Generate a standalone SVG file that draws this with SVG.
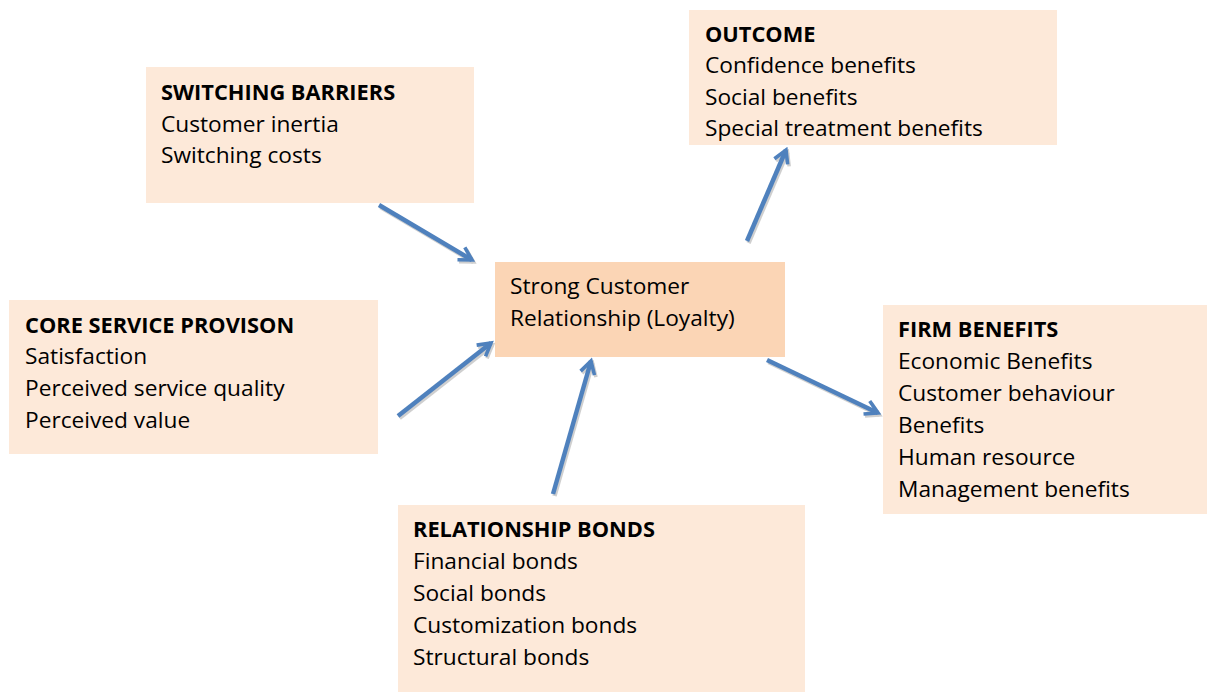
<svg xmlns="http://www.w3.org/2000/svg" width="1207" height="693" viewBox="0 0 1207 693">
  <style>
    .box { fill: #FDE9D9; }
    .core { fill: #FBD5B5; }
    text { font-family: "Open Sans", "Liberation Sans", Arial, sans-serif; font-size: 22.7px; fill: #000; }
    .h { font-weight: bold; font-size: 21.8px; }
    .conn { stroke: #4F81BD; stroke-width: 4.5; fill: none; stroke-linecap: butt; }
    .shadow { stroke: #B0B0B0; stroke-width: 4.5; fill: none; opacity: 0.6; }
  </style>
  <defs>
    <marker id="head" viewBox="0 0 10 10" refX="8" refY="5" markerWidth="4" markerHeight="4" orient="auto" markerUnits="strokeWidth">
      <path d="M1,1 L8,5 L1,9" fill="none" stroke="#4F81BD" stroke-width="2"/>
    </marker>
    <marker id="headShadow" viewBox="0 0 10 10" refX="8" refY="5" markerWidth="4" markerHeight="4" orient="auto" markerUnits="strokeWidth">
      <path d="M1,1 L8,5 L1,9" fill="none" stroke="#B0B0B0" stroke-width="2"/>
    </marker>
  </defs>

  <g id="switching-barriers">
    <rect class="box" x="146" y="67" width="328" height="136"/>
    <text x="161" y="100" class="h">SWITCHING BARRIERS</text>
    <text x="161" y="132">Customer inertia</text>
    <text x="161" y="163">Switching costs</text>
  </g>

  <g id="outcome">
    <rect class="box" x="689" y="10" width="368" height="135"/>
    <text x="705" y="42" class="h">OUTCOME</text>
    <text x="705" y="73">Confidence benefits</text>
    <text x="705" y="105">Social benefits</text>
    <text x="705" y="136">Special treatment benefits</text>
  </g>

  <g id="strong-relationship">
    <rect class="core" x="495" y="262" width="290" height="95"/>
    <text x="510" y="294">Strong Customer</text>
    <text x="510" y="326">Relationship (Loyalty)</text>
  </g>

  <g id="core-service">
    <rect class="box" x="9" y="300" width="369" height="154"/>
    <text x="25" y="333" class="h">CORE SERVICE PROVISON</text>
    <text x="25" y="364">Satisfaction</text>
    <text x="25" y="396">Perceived service quality</text>
    <text x="25" y="428">Perceived value</text>
  </g>

  <g id="firm-benefits">
    <rect class="box" x="883" y="305" width="324" height="209"/>
    <text x="898" y="337" class="h">FIRM BENEFITS</text>
    <text x="898" y="369">Economic Benefits</text>
    <text x="898" y="401">Customer behaviour</text>
    <text x="898" y="433">Benefits</text>
    <text x="898" y="465">Human resource</text>
    <text x="898" y="497">Management benefits</text>
  </g>

  <g id="relationship-bonds">
    <rect class="box" x="398" y="505" width="407" height="187"/>
    <text x="413" y="537" class="h">RELATIONSHIP BONDS</text>
    <text x="413" y="569">Financial bonds</text>
    <text x="413" y="601">Social bonds</text>
    <text x="413" y="633">Customization bonds</text>
    <text x="413" y="665">Structural bonds</text>
  </g>

  <g id="connectors">
    <!-- soft drop shadows -->
    <g transform="translate(1.5,2)">
      <line class="shadow" x1="379" y1="205" x2="472" y2="260" marker-end="url(#headShadow)"/>
      <line class="shadow" x1="747" y1="241" x2="786" y2="150" marker-end="url(#headShadow)"/>
      <line class="shadow" x1="767" y1="360" x2="878" y2="413" marker-end="url(#headShadow)"/>
      <line class="shadow" x1="398" y1="416" x2="491" y2="343" marker-end="url(#headShadow)"/>
      <line class="shadow" x1="553" y1="494" x2="591" y2="361" marker-end="url(#headShadow)"/>
    </g>
    <line class="conn" x1="379" y1="205" x2="472" y2="260" marker-end="url(#head)"/>
    <line class="conn" x1="747" y1="241" x2="786" y2="150" marker-end="url(#head)"/>
    <line class="conn" x1="767" y1="360" x2="878" y2="413" marker-end="url(#head)"/>
    <line class="conn" x1="398" y1="416" x2="491" y2="343" marker-end="url(#head)"/>
    <line class="conn" x1="553" y1="494" x2="591" y2="361" marker-end="url(#head)"/>
  </g>
</svg>
